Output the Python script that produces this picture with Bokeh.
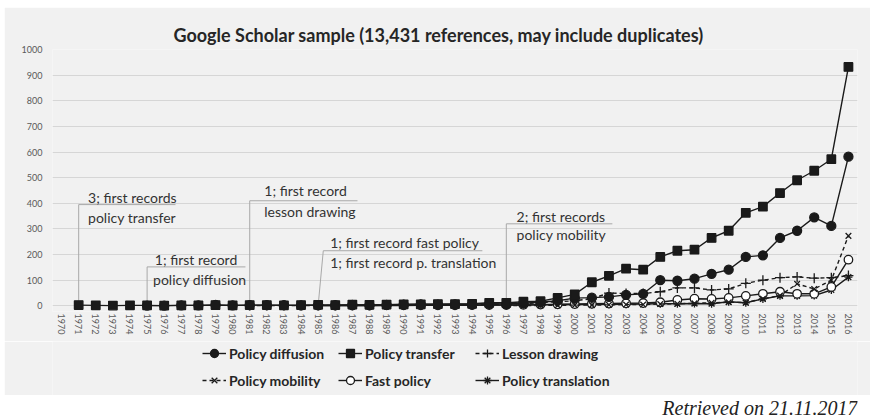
from bokeh.plotting import figure
from bokeh.models import Legend, LegendItem, FixedTicker, Range1d, Spacer
from bokeh.layouts import column, row
from bokeh.embed import file_html
from bokeh.resources import INLINE

# ---------------- data ----------------
years = list(range(1970, 2017))
year_labels = [str(y) for y in years]
y_ticks = list(range(0, 1001, 100))

diffusion_start = 1975
diffusion = [1, 1, 2, 2, 4, 2, 3, 3, 3, 2, 3, 3, 4, 3, 4, 5, 6, 5, 6, 6,
             8, 7, 10, 14, 20, 30, 32, 35, 43, 47, 100, 98, 106, 125, 141,
             191, 197, 265, 293, 345, 312, 582]

transfer_start = 1971
transfer = [3, 2, 1, 2, 2, 1, 2, 2, 3, 2, 3, 3, 2, 3, 4, 3, 5, 4, 5, 6,
            6, 7, 7, 8, 12, 12, 16, 18, 31, 45, 92, 117, 145, 141, 191,
            215, 219, 265, 293, 363, 387, 440, 490, 527, 572, 932]

lesson_start = 1981
lesson = [1, 1, 1, 1, 2, 2, 2, 3, 3, 4, 4, 4, 4, 5, 6, 7, 9, 12, 16, 20,
          28, 50, 48, 48, 55, 70, 70, 62, 66, 88, 100, 110, 113, 108, 110, 118]

mobility_start = 1996
mobility = [2, 1, 2, 2, 3, 3, 4, 5, 5, 7, 8, 10, 12, 14, 13, 28, 40, 86,
            66, 100, 273]

fast_start = 1985
fast = [1, 1, 1, 1, 2, 2, 2, 2, 2, 3, 3, 3, 4, 5, 6, 7, 8, 9, 10, 11, 14,
        23, 28, 27, 31, 39, 47, 55, 47, 47, 74, 180]

translation_start = 1985
translation = [1, 1, 1, 1, 1, 1, 2, 2, 2, 2, 3, 3, 3, 4, 4, 5, 5, 6, 6, 7,
               8, 8, 9, 8, 16, 12, 27, 39, 39, 40, 62, 112]

# legend columns (each column: two rows)
legend_columns = [["Policy diffusion", "Policy mobility"],
                  ["Policy transfer", "Fast policy"],
                  ["Lesson drawing", "Policy translation"]]

title_text = "Google Scholar sample (13,431 references, may include duplicates)"
retrieved_text = "Retrieved on 21.11.2017"

BG = "#f1f1f1"
INK = "#1a1a1a"
FONT = "Lato"

# styles per series: marker, dash, fill, size
styles = {
    "Policy diffusion": ("circle", "solid", INK, 9),
    "Policy transfer": ("square", "solid", INK, 8.5),
    "Lesson drawing": ("cross", "4 3", INK, 10),
    "Policy mobility": ("x", "4 3", INK, 8),
    "Fast policy": ("circle", "solid", "white", 8.5),
    "Policy translation": ("asterisk", "solid", INK, 8),
}

# ---------------- main figure ----------------
p = figure(width=866, height=334, output_backend="svg", toolbar_location=None,
           x_range=Range1d(1969.47, 2016.53), y_range=Range1d(-22, 1000),
           min_border_left=48, min_border_right=13, min_border_top=42,
           min_border_bottom=30)
p.background_fill_color = BG
p.border_fill_color = BG
p.outline_line_color = None

p.title.text = title_text
p.title.align = "left"
p.title.offset = 121
p.title.text_font = FONT
p.title.text_font_size = "18px"
p.title.text_font_style = "bold"
p.title.text_color = "#262626"
p.title.standoff = 7

p.xgrid.visible = False
p.ygrid.grid_line_color = "#d6d6d6"
p.ygrid.grid_line_width = 1
p.yaxis.ticker = FixedTicker(ticks=y_ticks)
p.xaxis.ticker = FixedTicker(ticks=years)
p.xaxis.major_label_overrides = {y: s for y, s in zip(years, year_labels)}
p.xaxis.major_label_orientation = "vertical"
for ax in (p.xaxis, p.yaxis):
    ax.axis_line_color = None
    ax.major_tick_line_color = None
    ax.minor_tick_line_color = None
    ax.major_tick_out = 0
    ax.major_tick_in = 0
    ax.major_label_text_font = FONT
    ax.major_label_text_font_size = "9px"
    ax.major_label_text_color = "#595959"
p.yaxis.major_label_standoff = 10
p.xaxis.major_label_standoff = 2

# ---------------- callouts ----------------
LEAD = "#a8a8a8"
TXT = "#333333"

def callout(xs, ys, lines):
    p.line(xs, ys, line_color=LEAD, line_width=1)
    for (tx, ty, t) in lines:
        p.text([tx], [ty], text=[t], text_font={"value": FONT},
               text_font_size={"value": "14px"}, text_color=TXT,
               text_align="left", text_baseline="middle")

callout([1971, 1971, 1976.66], [transfer[0], 395, 395],
        [(1971.55, 422, "3; first records"), (1971.55, 344, "policy transfer")])
callout([1975, 1975, 1980.75], [diffusion[0], 152, 152],
        [(1975.45, 180, "1; first record"), (1975.35, 102, "policy diffusion")])
callout([1981, 1981, 1987.3], [lesson[0], 410, 410],
        [(1981.85, 449, "1; first record"), (1981.85, 367, "lesson drawing")])
callout([1985, 1985.3, 1994.6], [fast[0], 215, 215],
        [(1985.7, 246, "1; first record fast policy"),
         (1985.7, 168, "1; first record p. translation")])
callout([1996, 1996, 2002.2], [mobility[0], 320, 320],
        [(1996.6, 349, "2; first records"), (1996.6, 277, "policy mobility")])

# ---------------- series ----------------
def series(fig, name, xs, vals):
    marker, dash, fill, size = styles[name]
    l = fig.line(xs, vals, line_color=INK, line_width=1.4, line_dash=dash)
    s = fig.scatter(xs, vals, marker=marker, size=size, fill_color=fill,
                    line_color=INK, line_width=1.3)
    return [l, s]

def yrs(start, vals):
    return list(range(start, start + len(vals)))

series(p, "Policy translation", yrs(translation_start, translation), translation)
series(p, "Fast policy", yrs(fast_start, fast), fast)
series(p, "Policy mobility", yrs(mobility_start, mobility), mobility)
series(p, "Lesson drawing", yrs(lesson_start, lesson), lesson)
series(p, "Policy diffusion", yrs(diffusion_start, diffusion), diffusion)
series(p, "Policy transfer", yrs(transfer_start, transfer), transfer)

# ---------------- legend strip (same grey panel) ----------------
pl = figure(width=866, height=54, output_backend="svg", toolbar_location=None,
            x_axis_type=None, y_axis_type=None,
            x_range=Range1d(0, 1), y_range=Range1d(0, 1),
            min_border_left=0, min_border_right=0, min_border_top=0,
            min_border_bottom=0)
pl.outline_line_color = None
pl.background_fill_color = BG
pl.border_fill_color = BG
pl.grid.visible = False

col_x = [150, 286, 423]
for cx, names in zip(col_x, legend_columns):
    items = []
    for name in names:
        # proxy renderers outside the visible range (legend swatches only)
        rs = series(pl, name, [5, 6], [5, 5])
        items.append(LegendItem(label=name, renderers=rs))
    lg = Legend(items=items, location=(cx, 5), orientation="vertical")
    lg.background_fill_alpha = 0
    lg.border_line_color = None
    lg.padding = 0
    lg.margin = 0
    lg.spacing = 7
    lg.glyph_width = 24
    lg.glyph_height = 20
    lg.label_height = 20
    lg.label_standoff = 3
    lg.label_text_font = FONT
    lg.label_text_font_size = "14px"
    lg.label_text_font_style = "bold"
    lg.label_text_color = "#262626"
    pl.add_layout(lg, "center")

# ---------------- retrieved note ----------------
p2 = figure(width=866, height=23, output_backend="svg", toolbar_location=None,
            x_axis_type=None, y_axis_type=None,
            x_range=Range1d(0, 866), y_range=Range1d(0, 23),
            min_border_left=0, min_border_right=0, min_border_top=0,
            min_border_bottom=0)
p2.outline_line_color = None
p2.background_fill_color = "white"
p2.border_fill_color = "white"
p2.grid.visible = False
p2.text([866], [11], text=[retrieved_text],
        text_font={"value": "Liberation Serif"}, text_font_style="italic",
        text_font_size={"value": "20px"}, text_color="#222222",
        text_align="right", text_baseline="middle")

layout = column(Spacer(height=7),
                row(Spacer(width=4), column(p, pl, p2, spacing=0), spacing=0),
                spacing=0)
open("out.html", "w").write(file_html(layout, INLINE))
